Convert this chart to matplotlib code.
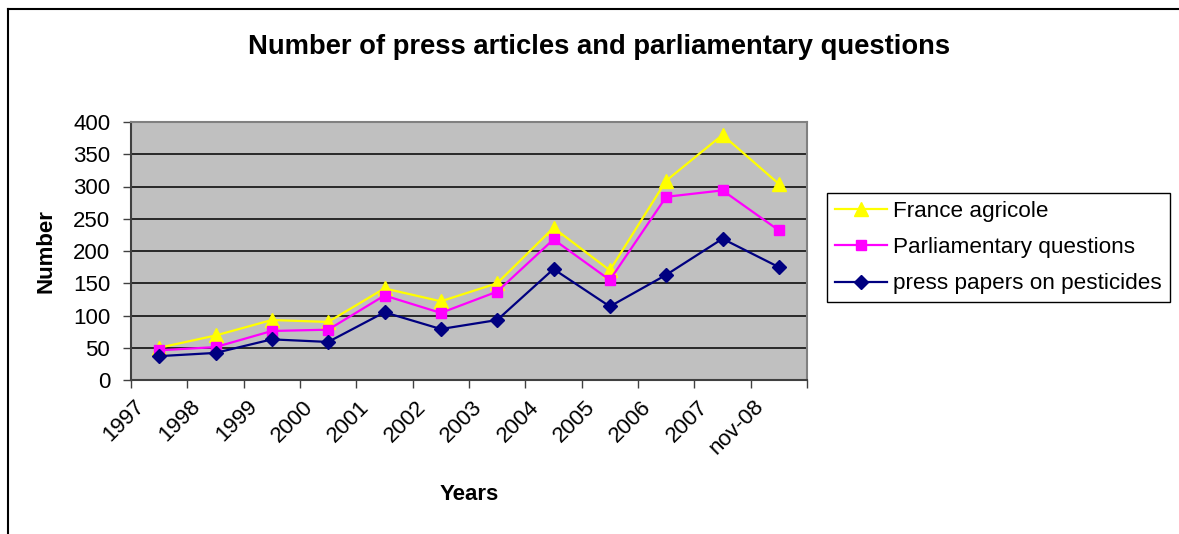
import matplotlib.pyplot as plt
from matplotlib.lines import Line2D
from matplotlib.transforms import ScaledTranslation

plt.rcParams['font.family'] = ['Liberation Sans', 'DejaVu Sans']

# chart data
years = ['1997', '1998', '1999', '2000', '2001', '2002', '2003', '2004',
         '2005', '2006', '2007', 'nov-08']
france_agricole = [50, 69, 93, 90, 142, 122, 150, 236, 170, 309, 380, 304]
parliamentary = [46, 51, 76, 78, 131, 104, 137, 218, 155, 284, 294, 232]
press_papers = [37, 42, 63, 59, 105, 79, 93, 172, 114, 163, 219, 175]

W, H = 1179, 534
fig = plt.figure(figsize=(W / 100, H / 100), dpi=100)
fig.patch.set_facecolor('white')

# plot area in pixel coordinates of the reference
left, right, top, bottom = 131, 807, 122, 380
ax = fig.add_axes([left / W, 1 - bottom / H, (right - left) / W, (bottom - top) / H])
ax.set_facecolor('#C0C0C0')

x = list(range(len(years)))
ax.plot(x, france_agricole, color='#FFFF00', lw=1.6, marker='^', ms=10.5,
        label='France agricole', zorder=3)
ax.plot(x, parliamentary, color='#FF00FF', lw=1.6, marker='s', ms=7.5,
        label='Parliamentary questions', zorder=4)
ax.plot(x, press_papers, color='#000080', lw=1.6, marker='D', ms=7,
        label='press papers on pesticides', zorder=5)

ax.set_xlim(-0.5, len(years) - 0.5)
ax.set_ylim(0, 400)
ax.set_yticks(range(0, 401, 50))
ax.grid(True, axis='y', color='black', lw=1.1, zorder=1)
ax.set_axisbelow(True)

# ticks at category boundaries, labels at centres
ax.set_xticks([i - 0.5 for i in range(len(years) + 1)], minor=True)
ax.set_xticks(x)
ax.set_xticklabels(years, rotation=45, ha='right', va='center',
                   rotation_mode='anchor', fontsize=16)
ax.tick_params(axis='x', which='major', length=0, pad=17)
ax.tick_params(axis='x', which='minor', length=6, width=1, color='#404040')
ax.tick_params(axis='y', length=6, width=1, color='#404040', pad=9, labelsize=16)
offset = ScaledTranslation(-0.18, 0, fig.dpi_scale_trans)
for lab in ax.get_xticklabels():
    lab.set_transform(lab.get_transform() + offset)

for side in ['left', 'bottom']:
    ax.spines[side].set_color('#404040')
    ax.spines[side].set_linewidth(1.5)
for side in ['top', 'right']:
    ax.spines[side].set_color('#808080')
    ax.spines[side].set_linewidth(1.5)

ax.set_ylabel('Number', fontsize=16, fontweight='bold')
ax.yaxis.set_label_coords((57 - left) / (right - left), 0.5)
ax.set_xlabel('Years', fontsize=16, fontweight='bold')
ax.xaxis.set_label_coords(0.5, -(484 - bottom) / (bottom - top))

fig.text(599 / W, 1 - 47 / H, 'Number of press articles and parliamentary questions',
         ha='center', va='center', fontsize=19.7, fontweight='bold')

leg = fig.legend(loc='upper left', bbox_to_anchor=(827 / W, 1 - 193 / H),
                 fontsize=16.2, frameon=True, fancybox=False, framealpha=1,
                 edgecolor='black', handlelength=2.3, labelspacing=0.68,
                 borderpad=0.35, handletextpad=0.3, borderaxespad=0)
leg.get_frame().set_linewidth(1)

# outer chart border (top and left visible in the reference)
fig.add_artist(Line2D([8 / W, 1], [1 - 9 / H, 1 - 9 / H], color='black', lw=1.5))
fig.add_artist(Line2D([8 / W, 8 / W], [1 - 9 / H, 0], color='black', lw=1.5))

fig.savefig('out.png', dpi=100)
